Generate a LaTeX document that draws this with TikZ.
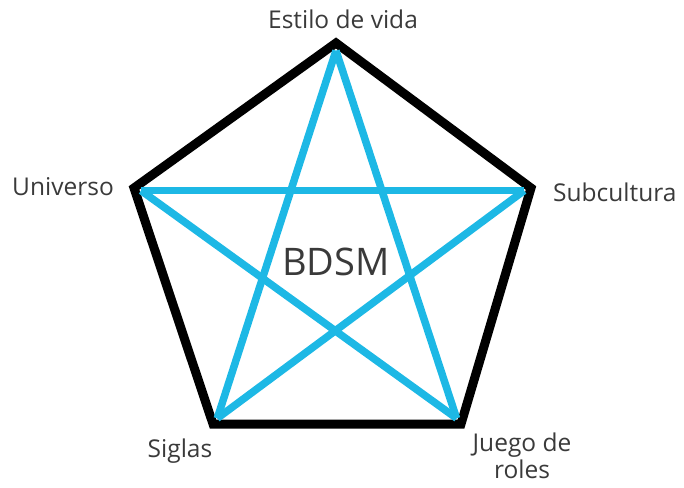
\documentclass[tikz,border=0pt]{standalone}
\usepackage{fontspec}
\setmainfont{Open Sans}
\usetikzlibrary{calc}
\definecolor{starblue}{HTML}{1DB8E5}
\definecolor{txt}{HTML}{3A3A3A}
\begin{document}
\begin{tikzpicture}[x=1pt,y=-1pt,
  lbl/.style={text=txt,font=\fontsize{24.5}{28}\selectfont,inner sep=0pt},
  edge/.style={line width=9pt,black,line join=miter,miter limit=10},
  starline/.style={line width=7.5pt,starblue}]
\useasboundingbox (0,0) rectangle (684,487);
\coordinate (T) at (336,43);
\coordinate (R) at (531,188);
\coordinate (BR) at (461,424);
\coordinate (BL) at (213,424);
\coordinate (L) at (134,188);
\coordinate (C) at (335,262);
\draw[edge] (T) -- (R) -- (BR) -- (BL) -- (L) -- cycle;
\foreach \v in {T,R,BR,BL,L}{\coordinate (s\v) at ($(\v)!0.035!(C)$);}
\draw[starline] (sT) -- (sBL);
\draw[starline] (sT) -- (sBR);
\draw[starline] (sL) -- (sR);
\draw[starline] (sL) -- (sBR);
\draw[starline] (sR) -- (sBL);
\node[lbl] (nT) at (343,19) {Estilo de vida};
\node[lbl,anchor=west] (nR) at (553,192) {Subcultura};
\node[lbl,anchor=east] (nL) at (114,187) {Universo};
\node[lbl] (nBL) at (180,451) {Siglas};
\node[lbl,align=center,font=\fontsize{24.5}{27}\selectfont] (nBR) at (522,456) {Juego de\\roles};
\node[text=txt,font=\fontsize{38}{44}\selectfont,inner sep=0pt] (nC) at (336,262) {BDSM};
\end{tikzpicture}
\end{document}
